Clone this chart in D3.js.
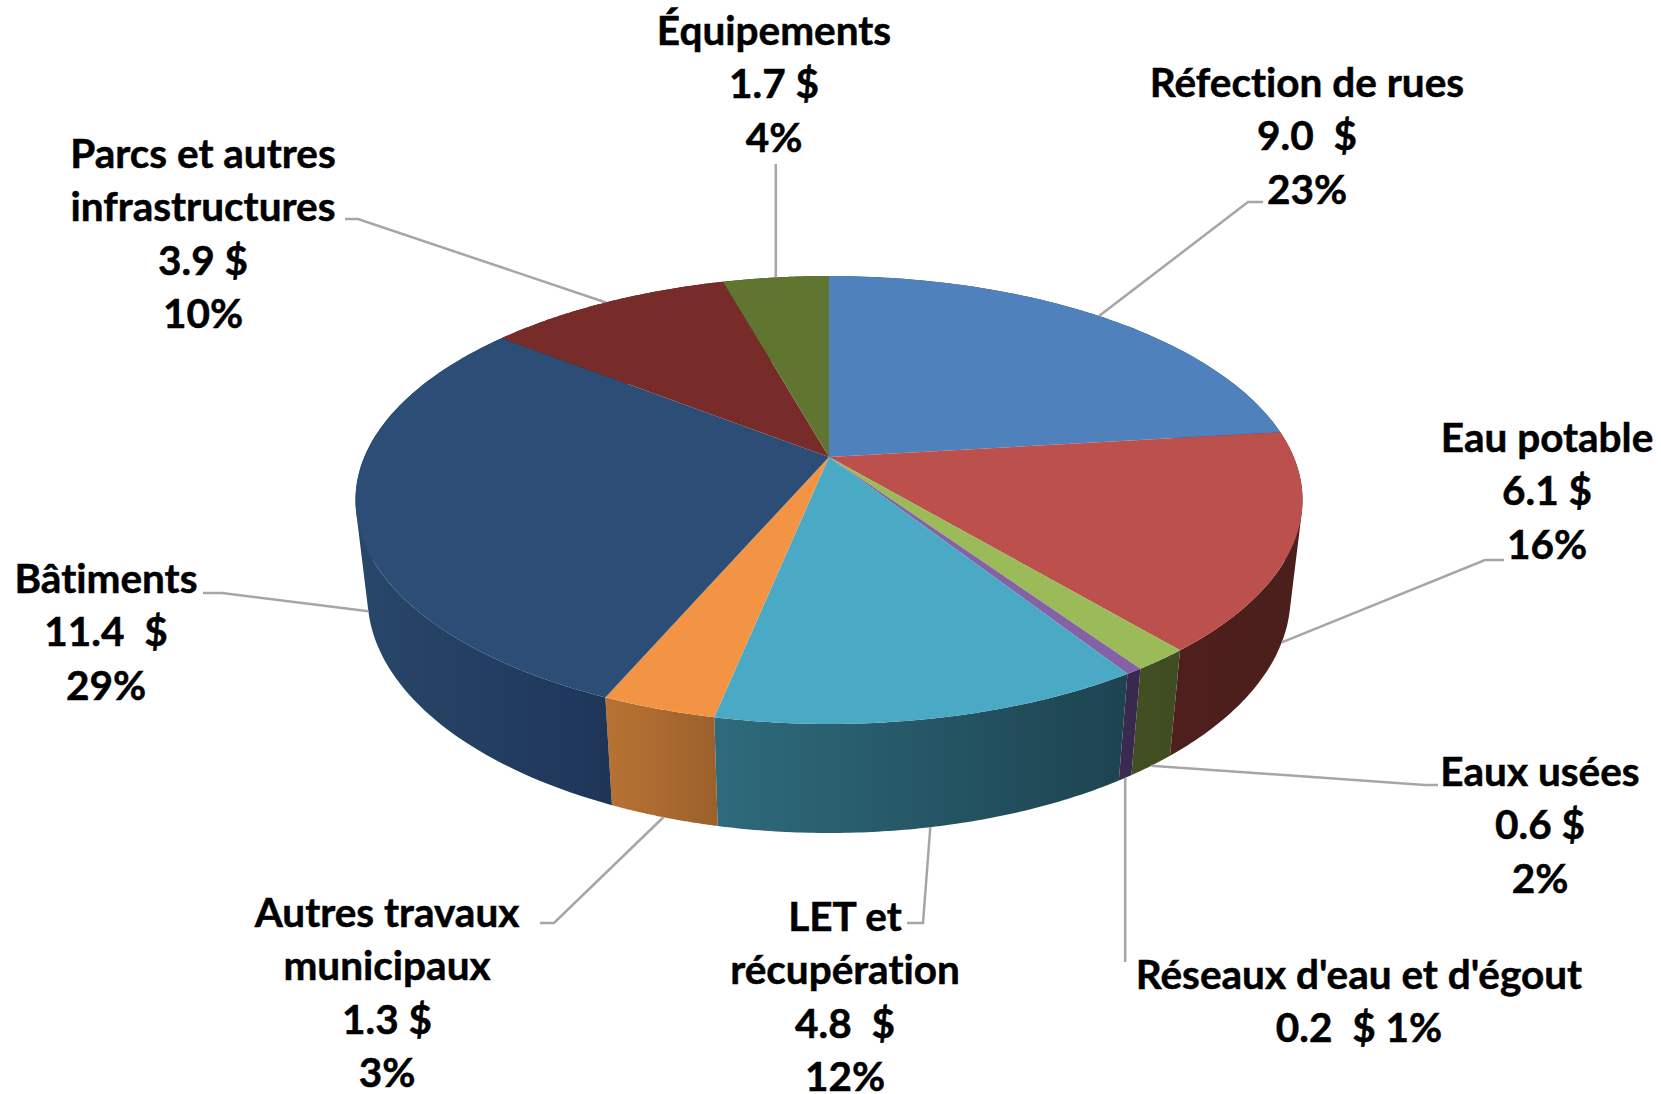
<!DOCTYPE html>
<html>
<head>
<meta charset="utf-8">
<script src="https://cdn.jsdelivr.net/npm/d3@7"></script>
<style>
  html, body { margin: 0; background: #fff; }
  text { font-family: Lato, "Open Sans", sans-serif; font-weight: 700; font-size: 40.5px; fill: #000; stroke: #000; stroke-width: 0.5px; white-space: pre; font-variant-ligatures: none; }
</style>
</head>
<body>
<div id="canvas"></div>
<script>
// values (millions of $), slice angles give the extra decimal
const categories = ["Réfection de rues", "Eau potable", "Eaux usées", "Réseaux d'eau et d'égout", "LET et récupération", "Autres travaux municipaux", "Bâtiments", "Parcs et autres infrastructures", "Équipements"];
const amounts = [9.04, 6.14, 0.63, 0.19, 4.79, 1.28, 11.36, 3.94, 1.70];
const labelLines = [
  ["Réfection de rues", "9.0  $", "23%"],
  ["Eau potable", "6.1 $", "16%"],
  ["Eaux usées", "0.6 $", "2%"],
  ["Réseaux d'eau et d'égout", "0.2  $ 1%"],
  ["LET et", "récupération", "4.8  $", "12%"],
  ["Autres travaux", "municipaux", "1.3 $", "3%"],
  ["Bâtiments", "11.4  $", "29%"],
  ["Parcs et autres", "infrastructures", "3.9 $", "10%"],
  ["Équipements", "1.7 $", "4%"]
];

const topColors = ["#4f81bd", "#bc504c", "#9bbb59", "#8561a6", "#4aa9c4", "#f29444", "#2c4d75", "#772c2a", "#5f7530"];
const wallColors = [
  ["#2f4d70", "#2f4d70"], ["#4f1f1c", "#4a1f1c"], ["#434f22", "#3f4d22"],
  ["#3c2a50", "#38284c"], ["#2e6b7c", "#1d4350"], ["#b87333", "#9c602c"],
  ["#28476a", "#1e3558"], ["#4a1c1a", "#4a1c1a"], ["#3c4a20", "#3c4a20"]
];

// label placement: [x, first baseline]
const labelPos = [[1307, 97], [1547, 452], [1540, 786], [1359, 989], [845, 931], [387, 927], [106, 593], [203, 168], [774, 45]];
// leader lines: points after the anchor, and whether the anchor is on the lower rim
const leaderPts = [
  [[1248, 202], [1263, 202]],
  [[1485, 560], [1504, 560]],
  [[1425, 785], [1438, 785]],
  [[null, 962]],
  [[923, 923], [907, 923]],
  [[554, 923], [540, 923]],
  [[222, 593], [203, 593]],
  [[358, 219], [345, 219]],
  [[null, 164]]
];
const leaderOnRim = [false, true, true, true, true, true, true, false, false];

const width = 1661, height = 1094;
const lineGap = 53.4;

// perspective projection of the disc
const cx = 829, cy = 457;
const tilt = 0.192, rimShift = 0.025, rimDrop = 0.452;
const xScale = d3.scaleLinear().domain([-1, 1]).range([cx - 464.7, cx + 464.7]);
const yScale = d3.scaleLinear().domain([-1, 1]).range([cy - 215.7, cy + 215.7]);

const project = (a, rim) => {
  const x = Math.sin(a), y = -Math.cos(a);
  const w = 1 - tilt * y + (rim ? rimShift : 0);
  return [xScale(x / w), yScale((y + (rim ? rimDrop : 0)) / w)];
};

const sweep = (d, n) => d3.range(n + 1).map(i => d.startAngle + (d.endAngle - d.startAngle) * i / n);

const arcs = d3.pie().sort(null).value(d => d)(amounts);

const svg = d3.select("#canvas").append("svg")
  .attr("width", width)
  .attr("height", height)
  .style("display", "block");

const line = d3.line();
const defs = svg.append("defs");

// side walls as one path of small quads, all wound the same way so they don't cancel
const walls = svg.append("g").attr("class", "walls");
arcs.forEach((d, i) => {
  const angles = sweep(d, 80);
  const upper = angles.map(a => project(a, false));
  const lower = angles.map(a => project(a, true));
  const xs = upper.concat(lower).map(p => p[0]);
  const grad = defs.append("linearGradient")
    .attr("id", "wall" + i)
    .attr("gradientUnits", "userSpaceOnUse")
    .attr("x1", d3.min(xs)).attr("x2", d3.max(xs))
    .attr("y1", 0).attr("y2", 0);
  grad.append("stop").attr("offset", 0).attr("stop-color", wallColors[i][0]);
  grad.append("stop").attr("offset", 1).attr("stop-color", wallColors[i][1]);
  const quads = d3.range(angles.length - 1).map(k => {
    const q = [upper[k], upper[k + 1], lower[k + 1], lower[k]];
    if (d3.polygonArea(q) < 0) q.reverse();
    return line(q) + "Z";
  });
  walls.append("path")
    .attr("d", quads.join(""))
    .attr("fill", `url(#wall${i})`);
});

// leader lines
svg.append("g").attr("class", "leaders")
  .selectAll("path")
  .data(arcs)
  .enter()
  .append("path")
  .attr("fill", "none")
  .attr("stroke", "#a6a6a6")
  .attr("stroke-width", 2.5)
  .attr("d", (d, i) => {
    const start = project((d.startAngle + d.endAngle) / 2, leaderOnRim[i]);
    const rest = leaderPts[i].map(p => [p[0] === null ? start[0] : p[0], p[1]]);
    return line([start].concat(rest));
  });

// top faces
svg.append("g").attr("class", "faces")
  .selectAll("path")
  .data(arcs)
  .enter()
  .append("path")
  .attr("fill", (d, i) => topColors[i])
  .attr("d", d => line([[cx, cy]].concat(sweep(d, 80).map(a => project(a, false)))) + "Z");

// labels
const labels = svg.append("g").attr("class", "labels")
  .selectAll("text")
  .data(categories)
  .enter()
  .append("text")
  .attr("text-anchor", "middle");

labels.selectAll("tspan")
  .data((d, i) => labelLines[i].map((t, j) => ({ t, j, i })))
  .enter()
  .append("tspan")
  .attr("x", d => labelPos[d.i][0])
  .attr("y", d => labelPos[d.i][1] + d.j * lineGap)
  .text(d => d.t);
</script>
</body>
</html>
